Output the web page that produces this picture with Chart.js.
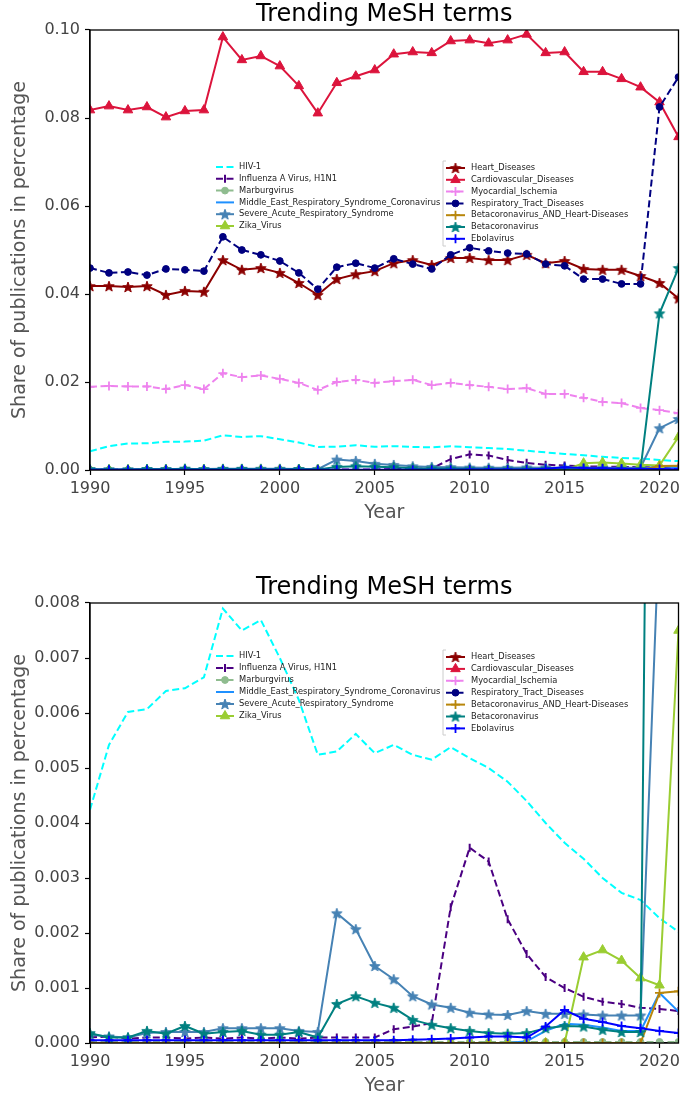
<!DOCTYPE html>
<html><head><meta charset="utf-8">
<script src="https://cdn.jsdelivr.net/npm/chart.js@4.4.0/dist/chart.umd.min.js"></script>
<style>
html,body{margin:0;padding:0;background:#fff;}
body{width:685px;height:1097px;position:relative;overflow:hidden;}
.box{position:absolute;left:0;width:685px;height:524px;}
#b1{top:0;}
#b2{top:573px;}
</style></head><body>
<div class="box" id="b1"><canvas id="c1"></canvas></div>
<div class="box" id="b2"><canvas id="c2"></canvas></div>
<script>
const years = [1990,1991,1992,1993,1994,1995,1996,1997,1998,1999,2000,2001,2002,2003,2004,2005,2006,2007,2008,2009,2010,2011,2012,2013,2014,2015,2016,2017,2018,2019,2020,2021];

const hiv = [0.00424,0.00542,0.00602,0.00607,0.00640,0.00645,0.00665,0.00790,0.00750,0.00769,0.00700,0.00624,0.00524,0.00530,0.00562,0.00527,0.00542,0.00524,0.00515,0.00538,0.00518,0.00500,0.00475,0.00440,0.00400,0.00364,0.00335,0.00300,0.00273,0.00260,0.00227,0.00202];
const h1n1 = [0.00010,0.00012,0.00008,0.00010,0.00010,0.00008,0.00010,0.00008,0.00010,0.00008,0.00010,0.00008,0.00010,0.00010,0.00010,0.00010,0.00025,0.00030,0.00036,0.00247,0.00355,0.00330,0.00225,0.00162,0.00120,0.00100,0.00084,0.00075,0.00071,0.00064,0.00062,0.00058];
const marburg = [0.00002,0.00002,0.00002,0.00002,0.00002,0.00002,0.00002,0.00002,0.00002,0.00002,0.00002,0.00002,0.00002,0.00002,0.00002,0.00002,0.00002,0.00002,0.00002,0.00002,0.00002,0.00002,0.00002,0.00002,0.00002,0.00002,0.00002,0.00002,0.00002,0.00002,0.00002,0.00002];
const mers = [0,0,0,0,0,0,0,0,0,0,0,0,0,0,0,0,0,0,0,0,0,0,0,0.00003,0.00022,0.00035,0.00033,0.00028,0.00022,0.00022,0.00091,0.00057];
const sars = [0.00015,0.00012,0.00010,0.00018,0.00020,0.00020,0.00020,0.00027,0.00027,0.00027,0.00027,0.00022,0.00020,0.00236,0.00207,0.00140,0.00116,0.00085,0.00070,0.00064,0.00055,0.00052,0.00051,0.00058,0.00053,0.00053,0.00052,0.00050,0.00050,0.00050,0.00950,0.01160];
const zika = [0,0,0,0,0,0,0,0,0,0,0,0,0,0,0,0,0,0,0,0,0,0,0,0,0,0,0.00156,0.00169,0.00150,0.00118,0.00105,0.00750];
const heart = [0.0418,0.0418,0.0416,0.0418,0.0398,0.0407,0.0405,0.0477,0.0455,0.0459,0.0448,0.0425,0.0398,0.0434,0.0445,0.0452,0.0470,0.0477,0.0466,0.0482,0.0482,0.0477,0.0477,0.0489,0.0470,0.0475,0.0457,0.0455,0.0455,0.0441,0.0425,0.0390];
const cardio = [0.0818,0.0827,0.0818,0.0825,0.0802,0.0816,0.0818,0.0984,0.0932,0.0941,0.0918,0.0873,0.0811,0.0880,0.0895,0.0909,0.0945,0.0950,0.0948,0.0975,0.0977,0.0970,0.0977,0.0990,0.0948,0.0950,0.0905,0.0905,0.0889,0.0870,0.0836,0.0757];
const myo = [0.0189,0.0191,0.0190,0.0190,0.0184,0.0193,0.0184,0.0220,0.0211,0.0215,0.0207,0.0198,0.0182,0.0200,0.0205,0.0198,0.0202,0.0205,0.0193,0.0198,0.0193,0.0189,0.0184,0.0186,0.0173,0.0173,0.0164,0.0155,0.0152,0.0141,0.0136,0.0129];
const resp = [0.0459,0.0448,0.0450,0.0443,0.0457,0.0455,0.0452,0.0530,0.0500,0.0489,0.0475,0.0448,0.0411,0.0461,0.0470,0.0459,0.0480,0.0468,0.0457,0.0489,0.0505,0.0498,0.0493,0.0491,0.0468,0.0464,0.0434,0.0434,0.0423,0.0423,0.0825,0.0893];
const betaHeart = [0,0,0,0,0,0,0,0,0,0,0,0,0,0,0,0,0,0,0,0,0,0,0,0,0,0,0,0,0,0,0.00091,0.00094];
const betacov = [0.00018,0.00010,0.00010,0.00022,0.00017,0.00031,0.00017,0.00020,0.00022,0.00015,0.00015,0.00020,0.00010,0.00071,0.00085,0.00073,0.00064,0.00042,0.00033,0.00027,0.00022,0.00018,0.00017,0.00018,0.00027,0.00031,0.00030,0.00024,0.00020,0.00020,0.03560,0.04590];
const ebola = [0.00005,0.00005,0.00005,0.00005,0.00005,0.00005,0.00005,0.00005,0.00005,0.00005,0.00005,0.00005,0.00005,0.00005,0.00005,0.00005,0.00005,0.00006,0.00007,0.00008,0.00010,0.00012,0.00012,0.00010,0.00030,0.00060,0.00044,0.00038,0.00031,0.00027,0.00022,0.00018];

const topTicks = [0, 0.02, 0.04, 0.06, 0.08, 0.10];
const bottomTicks = [0, 0.001, 0.002, 0.003, 0.004, 0.005, 0.006, 0.007, 0.008];
const xTicks = [1990, 1995, 2000, 2005, 2010, 2015, 2020];

const FF = '"DejaVu Sans", sans-serif';

function starImg(color, r) {
  const s = Math.ceil(r * 2 + 3);
  const c = document.createElement('canvas');
  c.width = s; c.height = s;
  const g = c.getContext('2d');
  g.translate(s / 2, s / 2 + 0.5);
  g.beginPath();
  for (let i = 0; i < 10; i++) {
    const rad = i % 2 === 0 ? r : r * 0.42;
    const a = -Math.PI / 2 + i * Math.PI / 5;
    g.lineTo(rad * Math.cos(a), rad * Math.sin(a));
  }
  g.closePath();
  g.fillStyle = color; g.fill();
  g.lineWidth = 1; g.strokeStyle = color; g.stroke();
  return c;
}

const defs = [
  {label: 'HIV-1', data: hiv, color: '#00FFFF', dash: [7, 3.5], marker: 'none'},
  {label: 'Influenza A Virus, H1N1', data: h1n1, color: '#4B0082', dash: [7, 3.5], marker: 'vline'},
  {label: 'Marburgvirus', data: marburg, color: '#8FBC8F', dash: [7, 3.5], marker: 'circle'},
  {label: 'Middle_East_Respiratory_Syndrome_Coronavirus', data: mers, color: '#1E90FF', dash: [], marker: 'none'},
  {label: 'Severe_Acute_Respiratory_Syndrome', data: sars, color: '#4682B4', dash: [], marker: 'star'},
  {label: 'Zika_Virus', data: zika, color: '#9ACD32', dash: [], marker: 'triangle'},
  {label: 'Heart_Diseases', data: heart, color: '#8B0000', dash: [], marker: 'star'},
  {label: 'Cardiovascular_Diseases', data: cardio, color: '#DC143C', dash: [], marker: 'triangle'},
  {label: 'Myocardial_Ischemia', data: myo, color: '#EE82EE', dash: [7, 3.5], marker: 'plus'},
  {label: 'Respiratory_Tract_Diseases', data: resp, color: '#000080', dash: [7, 3.5], marker: 'circle'},
  {label: 'Betacoronavirus_AND_Heart-Diseases', data: betaHeart, color: '#B8860B', dash: [], marker: 'plus'},
  {label: 'Betacoronavirus', data: betacov, color: '#008080', dash: [], marker: 'star'},
  {label: 'Ebolavirus', data: ebola, color: '#0000FF', dash: [], marker: 'plus'}
];

function pointProps(d) {
  switch (d.marker) {
    case 'star': return {pointStyle: starImg(d.color, 5.5), pointRadius: 5, pointBorderWidth: 0, pointRotation: 0};
    case 'triangle': return {pointStyle: 'triangle', pointRadius: 5.5, pointBorderWidth: 1, pointRotation: 0};
    case 'circle': return {pointStyle: 'circle', pointRadius: 3.4, pointBorderWidth: 1, pointRotation: 0};
    case 'plus': return {pointStyle: 'cross', pointRadius: 4.5, pointBorderWidth: 1.8, pointRotation: 0};
    case 'vline': return {pointStyle: 'line', pointRadius: 4, pointBorderWidth: 2, pointRotation: 90};
    default: return {pointStyle: 'circle', pointRadius: 0, pointBorderWidth: 0, pointRotation: 0};
  }
}

function buildDatasets() {
  const n = defs.length;
  return defs.map((d, i) => Object.assign({
    label: d.label,
    data: years.map((yr, k) => ({x: yr, y: d.data[k]})),
    borderColor: d.color,
    backgroundColor: d.color,
    pointBackgroundColor: d.color,
    pointBorderColor: d.color,
    borderWidth: 2,
    borderDash: d.dash,
    tension: 0,
    fill: false,
    pointHoverRadius: 0,
    order: n - i
  }, pointProps(d)));
}

function legendPlugin(cfg) {
  return {
    id: 'mlegend',
    afterDraw(chart) {
      const ctx = chart.ctx;
      const dsets = chart.data.datasets;
      cfg.groups.forEach(gr => {
        if (gr.bracket) {
          ctx.save();
          ctx.strokeStyle = '#cccccc'; ctx.lineWidth = 1;
          ctx.beginPath();
          ctx.moveTo(gr.bracket.x + 3, gr.bracket.y0); ctx.lineTo(gr.bracket.x, gr.bracket.y0);
          ctx.lineTo(gr.bracket.x, gr.bracket.y1); ctx.lineTo(gr.bracket.x + 3, gr.bracket.y1);
          ctx.stroke();
          ctx.restore();
        }
        gr.items.forEach((idx, k) => {
          const ds = dsets[idx];
          const y = gr.y0 + gr.step * k;
          ctx.save();
          ctx.strokeStyle = ds.borderColor; ctx.lineWidth = 2;
          ctx.setLineDash(ds.borderDash || []);
          ctx.beginPath(); ctx.moveTo(gr.x0, y); ctx.lineTo(gr.x0 + gr.len, y); ctx.stroke();
          ctx.setLineDash([]);
          if (ds.pointRadius > 0) {
            ctx.fillStyle = ds.pointBackgroundColor;
            ctx.strokeStyle = ds.pointBorderColor;
            ctx.lineWidth = ds.pointBorderWidth;
            Chart.helpers.drawPoint(ctx, {pointStyle: ds.pointStyle, rotation: ds.pointRotation, radius: ds.pointRadius, borderWidth: ds.pointBorderWidth}, gr.x0 + gr.len / 2, y);
          }
          ctx.fillStyle = '#222';
          ctx.font = '8.3px ' + FF;
          ctx.textBaseline = 'middle';
          ctx.textAlign = 'left';
          ctx.fillText(ds.label, gr.tx, y);
          ctx.restore();
        });
      });
    }
  };
}

const framePlugin = {
  id: 'frame',
  afterDatasetsDraw(chart) {
    const a = chart.chartArea, ctx = chart.ctx;
    ctx.save();
    ctx.strokeStyle = '#000'; ctx.lineWidth = 1.3;
    ctx.strokeRect(a.left, a.top, a.right - a.left, a.bottom - a.top);
    ctx.restore();
  }
};

function makeOptions(ymax, yticks, dec) {
  return {
    responsive: true, maintainAspectRatio: false, animation: false,
    layout: {padding: {left: 0, right: 1, top: 0, bottom: 0}},
    plugins: {
      legend: {display: false},
      tooltip: {enabled: false},
      title: {display: true, text: 'Trending MeSH terms', fullSize: false, color: '#000',
        font: {family: FF, size: 24, weight: 'normal', lineHeight: 1.2}, padding: {top: 0, bottom: 1.2}}
    },
    scales: {
      x: {
        type: 'linear', min: 1990, max: 2021,
        afterBuildTicks: s => { s.ticks = xTicks.map(v => ({value: v})); },
        ticks: {color: '#444', font: {family: FF, size: 16}, padding: 4, maxRotation: 0, autoSkip: false, callback: v => String(v)},
        grid: {drawOnChartArea: false, drawTicks: true, tickLength: 5, color: '#000', tickWidth: 1.2},
        border: {display: true, color: '#000', width: 1.3},
        title: {display: true, text: 'Year', color: '#555', font: {family: FF, size: 19}, padding: {top: 0, bottom: 0}},
        afterFit: s => { s.height = 54; s.paddingLeft = 0; s.paddingRight = 0; }
      },
      y: {
        min: 0, max: ymax,
        afterBuildTicks: s => { s.ticks = yticks.map(v => ({value: v})); },
        ticks: {color: '#444', font: {family: FF, size: 16}, padding: 5, autoSkip: false, callback: v => Number(v).toFixed(dec)},
        grid: {drawOnChartArea: false, drawTicks: true, tickLength: 5, color: '#000', tickWidth: 1.2},
        border: {display: true, color: '#000', width: 1.3},
        title: {display: true, text: 'Share of publications in percentage', color: '#555', font: {family: FF, size: 19}, padding: {top: 9, bottom: 0}},
        afterFit: s => { s.width = 90; s.paddingTop = 0; s.paddingBottom = 0; }
      }
    }
  };
}

const leftIdx = [0, 1, 2, 3, 4, 5];
const rightIdx = [6, 7, 8, 9, 10, 11, 12];

new Chart(document.getElementById('c1'), {
  type: 'line',
  data: {datasets: buildDatasets()},
  options: makeOptions(0.1, topTicks, 2),
  plugins: [framePlugin, legendPlugin({groups: [
    {items: leftIdx, x0: 216, len: 18, tx: 239, y0: 167, step: 11.8},
    {items: rightIdx, x0: 446, len: 19, tx: 471, y0: 168, step: 11.8, bracket: {x: 443, y0: 161, y1: 246}}
  ]})]
});

new Chart(document.getElementById('c2'), {
  type: 'line',
  data: {datasets: buildDatasets()},
  options: makeOptions(0.008, bottomTicks, 3),
  plugins: [framePlugin, legendPlugin({groups: [
    {items: leftIdx, x0: 216, len: 18, tx: 239, y0: 83, step: 12},
    {items: rightIdx, x0: 446, len: 19, tx: 471, y0: 84, step: 11.9, bracket: {x: 443, y0: 77, y1: 162}}
  ]})]
});
</script>
</body></html>
